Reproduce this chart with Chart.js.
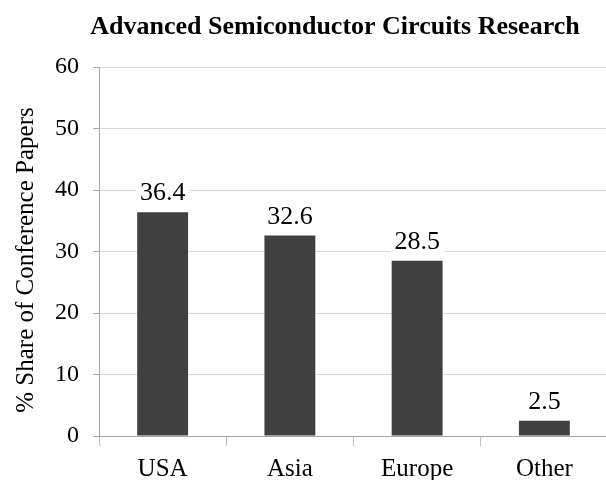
<!DOCTYPE html>
<html>
  <head>
    <meta charset="UTF-8" />
    <script src="https://cdn.jsdelivr.net/npm/chart.js"></script>
  </head>
  <style>
    html, body {
      margin: 0;
      padding: 0;
      background: #fff;
      overflow: hidden;
    }
  </style>
  <body>
    <canvas id="chartBar" width="608" height="480"></canvas>
    <script>
      const regions = ["USA", "Asia", "Europe", "Other"];
      const sharePct = [36.4, 32.6, 28.5, 2.5];
      const yTicks = [0, 10, 20, 30, 40, 50, 60];
      const chartTitle = "Advanced Semiconductor Circuits Research";
      const yTitle = "% Share of Conference Papers";

      const serif = "'Liberation Serif', 'Times New Roman', serif";

      // titles drawn by hand so they sit where the original puts them
      const titles = {
        id: "titles",
        afterDraw(chart) {
          const ctx = chart.ctx;
          ctx.save();
          ctx.fillStyle = "#000";
          ctx.textAlign = "center";
          ctx.textBaseline = "alphabetic";
          ctx.font = "bold 26px " + serif;
          ctx.fillText(chartTitle, 335, 34);

          ctx.translate(33, 260);
          ctx.rotate(-Math.PI / 2);
          ctx.font = "25px " + serif;
          ctx.fillText(yTitle, 0, 0);
          ctx.restore();
        },
      };

      // value labels over the bars
      const barLabels = {
        id: "barLabels",
        afterDatasetsDraw(chart) {
          const ctx = chart.ctx;
          const meta = chart.getDatasetMeta(0);
          ctx.save();
          ctx.font = "26px " + serif;
          ctx.textAlign = "center";
          ctx.textBaseline = "alphabetic";
          meta.data.forEach((bar, i) => {
            const text = sharePct[i].toFixed(1);
            const w = ctx.measureText(text).width;
            // white box hides the gridline behind the number
            ctx.fillStyle = "#fff";
            ctx.fillRect(bar.x - w / 2 - 4, bar.y - 32, w + 8, 24);
            ctx.fillStyle = "#000";
            ctx.fillText(text, bar.x, bar.y - 12);
          });
          ctx.restore();
        },
      };

      new Chart(document.getElementById("chartBar"), {
        type: "bar",
        data: {
          labels: regions,
          datasets: [
            {
              data: sharePct,
              backgroundColor: "#404040",
              barPercentage: 0.4,
              categoryPercentage: 1.0,
            },
          ],
        },
        options: {
          responsive: false,
          animation: false,
          layout: { padding: { left: 6, right: 0, top: 67, bottom: 0 } },
          plugins: {
            legend: { display: false },
            tooltip: { enabled: false },
            title: { display: false },
          },
          scales: {
            y: {
              min: 0,
              max: 60,
              afterBuildTicks: (scale) => {
                scale.ticks = yTicks.map((v) => ({ value: v }));
              },
              afterFit: (scale) => {
                scale.width = 93;
              },
              ticks: {
                color: "#000",
                font: { family: serif, size: 24 },
                padding: 14,
              },
              grid: {
                color: "#d9d9d9",
                tickColor: "#a6a6a6",
                tickLength: 6,
              },
              border: { color: "#a6a6a6" },
            },
            x: {
              afterFit: (scale) => {
                scale.height = 44;
              },
              ticks: {
                color: "#000",
                font: { family: serif, size: 25 },
                padding: 8,
              },
              grid: {
                drawOnChartArea: false,
                tickColor: "#bfbfbf",
                tickLength: 10,
              },
              border: { color: "#a6a6a6" },
            },
          },
        },
        plugins: [barLabels, titles],
      });
    </script>
  </body>
</html>
